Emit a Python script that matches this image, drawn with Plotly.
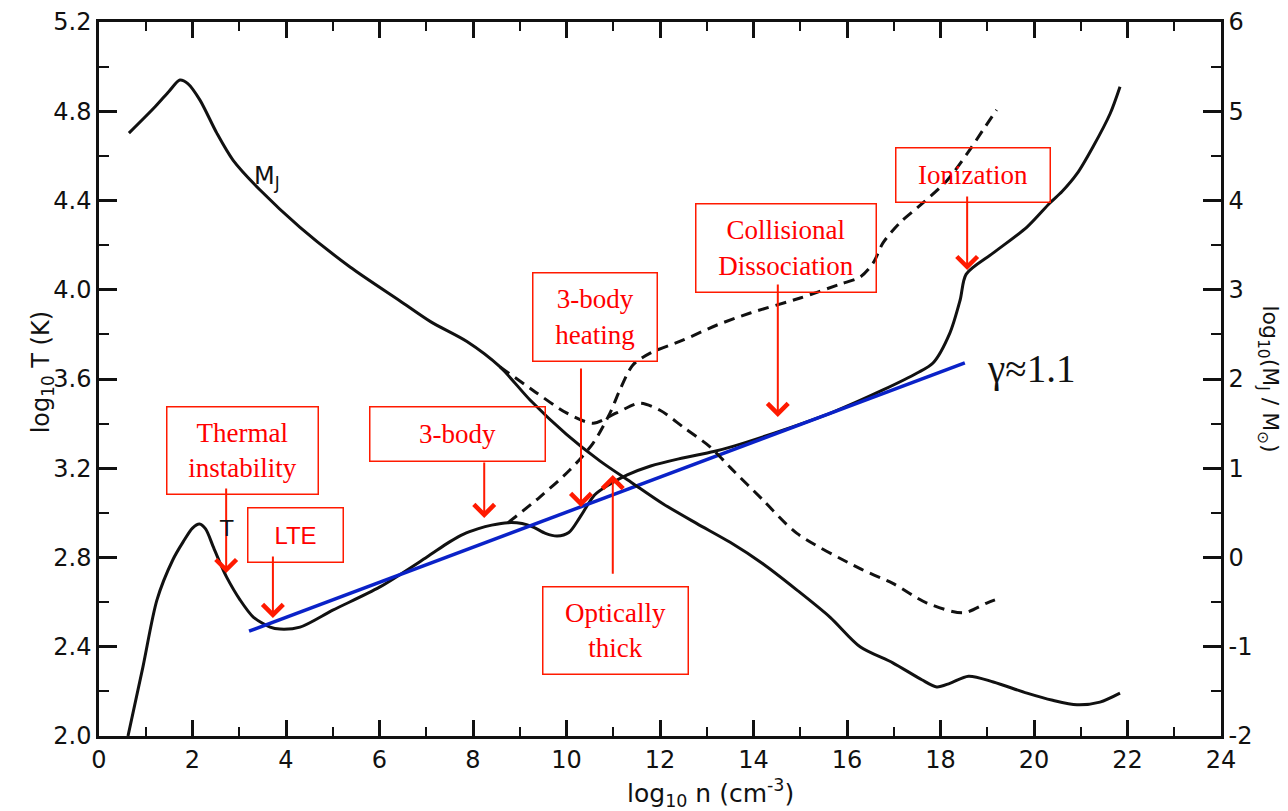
import plotly.graph_objects as go

# ---------------- data ----------------
# Temperature track, solid (log10 T, left axis)
T_X = [0.62, 0.94, 1.24, 1.58, 1.80, 2.00, 2.15, 2.28, 2.44, 2.60, 2.73, 3.02, 3.30, 3.66, 3.87, 4.30,
       5.00, 6.00, 7.00, 7.50, 7.80, 8.10, 8.40, 8.75, 9.05, 9.30, 9.55, 9.80, 10.05, 10.29, 10.60,
       10.90, 11.30, 11.80, 12.40, 13.15, 13.56, 14.63, 15.70, 16.77, 17.50, 17.84, 18.20, 18.42,
       18.55, 19.13, 19.85, 20.34, 20.60, 20.92, 21.26, 21.63, 21.84]
T_Y = [2.00, 2.31, 2.61, 2.79, 2.87, 2.932, 2.95, 2.928, 2.85, 2.77, 2.712, 2.609, 2.533, 2.488, 2.479,
       2.488, 2.564, 2.667, 2.80, 2.87, 2.905, 2.928, 2.945, 2.956, 2.952, 2.935, 2.908, 2.896, 2.912,
       2.981, 3.08, 3.125, 3.17, 3.21, 3.242, 3.275, 3.298, 3.371, 3.452, 3.551, 3.627, 3.672, 3.806,
       3.954, 4.07, 4.165, 4.281, 4.389, 4.44, 4.52, 4.64, 4.79, 4.91]

# Temperature track, dashed branch (log10 T, left axis)
TD_X = [8.75, 9.43, 10.07, 10.57, 10.93, 11.14, 11.42, 11.79, 12.50, 13.22, 13.93, 15.00, 15.85,
        16.28, 16.56, 16.77, 17.13, 17.63, 18.14, 18.57, 18.91, 19.20]
TD_Y = [2.956, 3.071, 3.192, 3.313, 3.447, 3.55, 3.663, 3.716, 3.775, 3.842, 3.896, 3.963, 4.025,
        4.057, 4.12, 4.21, 4.30, 4.39, 4.49, 4.61, 4.716, 4.806]

# Jeans mass, solid (log10 M_J/M_sun, right axis)
MJ_X = [0.64, 1.20, 1.50, 1.73, 1.90, 2.16, 2.52, 2.87, 3.44, 4.30, 5.37, 6.44, 7.10, 7.87, 8.58,
        9.22, 10.00, 10.72, 11.42, 12.07, 12.79, 13.50, 14.20, 14.93, 15.64, 16.28, 16.98, 17.60,
        17.92, 18.20, 18.60, 19.13, 19.85, 20.40, 20.92, 21.41, 21.84]
MJ_Y = [4.755, 5.05, 5.225, 5.35, 5.31, 5.125, 4.755, 4.45, 4.12, 3.70, 3.255, 2.875, 2.64, 2.42,
        2.135, 1.765, 1.38, 1.08, 0.83, 0.60, 0.38, 0.17, -0.07, -0.365, -0.67, -1.00, -1.18, -1.37,
        -1.45, -1.41, -1.33, -1.395, -1.52, -1.60, -1.65, -1.62, -1.52]

# Jeans mass, dashed branch (log10 M_J/M_sun, right axis)
MJD_X = [8.58, 9.28, 10.00, 10.57, 11.07, 11.57, 12.00, 12.50, 13.07, 13.50, 14.20, 14.93, 16.28,
         16.98, 17.71, 18.49, 18.99, 19.27]
MJD_Y = [2.135, 1.875, 1.62, 1.505, 1.62, 1.73, 1.65, 1.46, 1.24, 1.01, 0.645, 0.27, -0.125,
         -0.29, -0.51, -0.62, -0.51, -0.455]

# Blue power-law fit (gamma ~ 1.1), left axis
FIT_X = [3.21, 18.52]
FIT_Y = [2.470, 3.672]

# Axis ticks
X_TICKS = list(range(0, 25, 2))
YL_TICKS = [2.0, 2.4, 2.8, 3.2, 3.6, 4.0, 4.4, 4.8, 5.2]
YL_LABELS = ["2.0", "2.4", "2.8", "3.2", "3.6", "4.0", "4.4", "4.8", "5.2"]
YR_TICKS = [-2, -1, 0, 1, 2, 3, 4, 5, 6]
YR_LABELS = ["-2", "-1", "0", "1", "2", "3", "4", "5", "6"]

# Red annotation boxes: text, centre (x, log T), width px, height px, font
BOXES = [
    ("Thermal<br>instability", 3.07, 3.279, 150, 86, "Liberation Serif"),
    ("LTE", 4.20, 2.901, 94, 53, "Liberation Sans"),
    ("3-body", 7.67, 3.353, 174, 53, "Liberation Serif"),
    ("3-body<br>heating", 10.61, 3.878, 123, 87, "Liberation Serif"),
    ("Optically<br>thick", 11.05, 2.473, 144, 86, "Liberation Serif"),
    ("Collisional<br>Dissociation", 14.70, 4.187, 179, 87, "Liberation Serif"),
    ("Ionization", 18.70, 4.514, 153, 53, "Liberation Serif"),
]
# Red arrows: x, tail log T, tip log T
ARROWS = [
    (2.72, 3.116, 2.73),
    (3.72, 2.811, 2.529),
    (8.24, 3.232, 2.977),
    (10.31, 3.654, 3.026),
    (10.99, 2.721, 3.170),
    (14.52, 4.030, 3.430),
    (18.57, 4.425, 4.088),
]

RED = "#ff1a00"
BLACK = "#111111"
BLUE = "#0a22c8"
SMOOTH = 0.8

fig = go.Figure()

fig.add_trace(go.Scatter(x=T_X, y=T_Y, mode="lines",
                         line=dict(color=BLACK, width=3, shape="spline", smoothing=SMOOTH),
                         showlegend=False, hoverinfo="skip"))
fig.add_trace(go.Scatter(x=TD_X, y=TD_Y, mode="lines",
                         line=dict(color=BLACK, width=3, dash="11px,7px", shape="spline", smoothing=SMOOTH),
                         showlegend=False, hoverinfo="skip"))
fig.add_trace(go.Scatter(x=MJ_X, y=MJ_Y, yaxis="y2", mode="lines",
                         line=dict(color=BLACK, width=3, shape="spline", smoothing=SMOOTH),
                         showlegend=False, hoverinfo="skip"))
fig.add_trace(go.Scatter(x=MJD_X, y=MJD_Y, yaxis="y2", mode="lines",
                         line=dict(color=BLACK, width=3, dash="11px,7px", shape="spline", smoothing=SMOOTH),
                         showlegend=False, hoverinfo="skip"))
fig.add_trace(go.Scatter(x=FIT_X, y=FIT_Y, mode="lines", line=dict(color=BLUE, width=3.5),
                         showlegend=False, hoverinfo="skip"))

annotations = []
for text, cx, cy, w, h, fam in BOXES:
    annotations.append(dict(
        x=cx, y=cy, xref="x", yref="y", text=text, showarrow=False,
        font=dict(family=fam, size=27 if fam.endswith("Serif") else 24, color="#ff0000"),
        width=w, height=h, bordercolor=RED, borderwidth=1.5, borderpad=0,
        align="center", valign="middle"))

for ax_, tail, tip in ARROWS:
    annotations.append(dict(
        x=ax_, y=tip, xref="x", yref="y", ax=ax_, ay=tail, axref="x", ayref="y",
        text="", showarrow=True, arrowhead=4, arrowsize=2, arrowwidth=2, arrowcolor=RED,
        standoff=0, startstandoff=0))

# curve labels
annotations.append(dict(x=3.6, y=4.505, xref="x", yref="y", text="M<sub>J</sub>", showarrow=False,
                        font=dict(family="DejaVu Sans", size=24, color=BLACK)))
annotations.append(dict(x=2.72, y=2.93, xref="x", yref="y", text="T", showarrow=False,
                        font=dict(family="DejaVu Sans", size=22, color=BLACK)))
annotations.append(dict(x=18.95, y=3.645, xref="x", yref="y", text="γ≈1.1", showarrow=False,
                        xanchor="left", font=dict(family="Liberation Serif", size=39, color=BLACK)))

# axis titles
annotations.append(dict(x=0.545, y=-0.08, xref="paper", yref="paper", yanchor="middle",
                        text="log<sub>10</sub> n (cm<sup>-3</sup>)",
                        showarrow=False, font=dict(family="DejaVu Sans", size=25, color=BLACK)))
annotations.append(dict(x=-0.066, y=0.51, xref="paper", yref="paper", text="log<sub>10</sub> T (K)",
                        showarrow=False, textangle=-90, font=dict(family="DejaVu Sans", size=24, color=BLACK)))
annotations.append(dict(x=1.0, y=0.50, xref="paper", yref="paper", xanchor="left", xshift=31,
                        text="log<sub>10</sub>(M<sub>J</sub> / M<sub>⊙</sub>)",
                        showarrow=False, textangle=90, font=dict(family="DejaVu Sans", size=22, color=BLACK)))

tickfont = dict(family="DejaVu Sans", size=24, color=BLACK)

# the page body adds an 8 px offset; margins compensate so the plot frame lands where the reference has it
fig.update_layout(
    width=1288, height=811,
    margin=dict(l=91, r=75, t=14, b=83, autoexpand=False),
    paper_bgcolor="white", plot_bgcolor="white",
    showlegend=False,
    annotations=annotations,
    xaxis=dict(range=[0, 24], tickvals=X_TICKS, ticks="inside", ticklen=16, tickwidth=2.5, tickcolor=BLACK,
               minor=dict(dtick=1, tick0=0, ticks="inside", ticklen=9, tickwidth=2, tickcolor=BLACK),
               showline=True, linecolor=BLACK, linewidth=2.5, mirror="ticks", showgrid=False, zeroline=False,
               tickfont=tickfont, automargin=False),
    yaxis=dict(range=[2.0, 5.2], tickvals=YL_TICKS, ticktext=YL_LABELS, ticks="inside", ticklen=18,
               tickwidth=2.5, tickcolor=BLACK,
               minor=dict(dtick=0.2, tick0=2.0, ticks="inside", ticklen=10, tickwidth=2, tickcolor=BLACK),
               showline=True, linecolor=BLACK, linewidth=2.5, showgrid=False, zeroline=False,
               tickfont=tickfont, automargin=False),
    yaxis2=dict(range=[-2, 6], overlaying="y", side="right", anchor="x", tickvals=YR_TICKS, ticktext=YR_LABELS,
                ticks="inside", ticklen=18, tickwidth=2.5, tickcolor=BLACK,
                minor=dict(dtick=0.5, tick0=-2, ticks="inside", ticklen=10, tickwidth=2, tickcolor=BLACK),
                showline=True, linecolor=BLACK, linewidth=2.5, showgrid=False, zeroline=False,
                tickfont=tickfont, automargin=False),
)

fig.write_html("out.html")
